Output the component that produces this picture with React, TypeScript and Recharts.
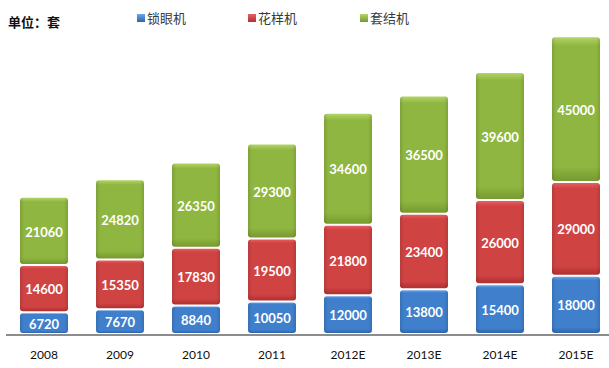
import { BarChart, Bar, XAxis, YAxis, LabelList, Legend } from "recharts";

const years = ["2008", "2009", "2010", "2011", "2012E", "2013E", "2014E", "2015E"];
const suoyan = [6720, 7670, 8840, 10050, 12000, 13800, 15400, 18000];
const huayang = [14600, 15350, 17830, 19500, 21800, 23400, 26000, 29000];
const taojie = [21060, 24820, 26350, 29300, 34600, 36500, 39600, 45000];

const series = [
  { key: "suoyan", name: "锁眼机", top: "#6aa6ea", main: "#3f7fcc", bottom: "#2e65ad" },
  { key: "huayang", name: "花样机", top: "#e86060", main: "#d04343", bottom: "#b03030" },
  { key: "taojie", name: "套结机", top: "#b2d468", main: "#8fb640", bottom: "#769a30" },
];

const data = years.map((year, i) => ({
  year,
  suoyan: suoyan[i],
  huayang: huayang[i],
  taojie: taojie[i],
}));

const cjk = '"Noto Sans CJK SC", sans-serif';

function Segment(props: any) {
  const { x, y, width, height, id } = props;
  if (!height || height <= 0) return null;
  const h = Math.max(height - 2, 1);
  return (
    <g>
      <rect x={x} y={y} width={width} height={h} rx={3} fill={`url(#g-${id})`} />
      <rect x={x} y={y} width={width} height={h} rx={3} fill="url(#edge)" />
    </g>
  );
}

function LegendBox() {
  return (
    <div style={{ position: "relative", height: 0 }}>
      <span
        style={{
          position: "absolute",
          left: 8,
          top: 12,
          fontFamily: cjk,
          fontWeight: 700,
          fontSize: 13,
          color: "#111",
          whiteSpace: "nowrap",
        }}
      >
        单位：套
      </span>
      {series.map((s, i) => (
        <span
          key={s.key}
          style={{
            position: "absolute",
            left: [137, 248, 360][i],
            top: 8,
            fontFamily: cjk,
            fontSize: 13,
            color: "#3a3a3a",
            whiteSpace: "nowrap",
            display: "flex",
            alignItems: "center",
          }}
        >
          <span
            style={{
              display: "inline-block",
              width: 8,
              height: 8,
              marginRight: 2,
              background: `linear-gradient(${s.top}, ${s.bottom})`,
            }}
          />
          {s.name}
        </span>
      ))}
    </div>
  );
}

export default function App() {
  return (
    <div
      style={{
        position: "absolute",
        left: 0,
        top: 0,
        width: 609,
        height: 368,
        overflow: "hidden",
        background: "#fff",
      }}
    >
      <BarChart
        width={614}
        height={368}
        data={data}
        margin={{ top: 14, right: 0, bottom: 0, left: 6 }}
        barSize={48}
      >
        <defs>
          {series.map((s) => (
            <linearGradient key={s.key} id={`g-${s.key}`} x1="0" y1="0" x2="0" y2="1">
              <stop offset="0" stopColor={s.top} />
              <stop offset="0.06" stopColor={s.main} />
              <stop offset="0.9" stopColor={s.main} />
              <stop offset="1" stopColor={s.bottom} />
            </linearGradient>
          ))}
          <linearGradient id="edge" x1="0" y1="0" x2="1" y2="0">
            <stop offset="0" stopColor="#000" stopOpacity={0.12} />
            <stop offset="0.08" stopColor="#000" stopOpacity={0} />
            <stop offset="0.92" stopColor="#000" stopOpacity={0} />
            <stop offset="1" stopColor="#000" stopOpacity={0.12} />
          </linearGradient>
        </defs>
        <XAxis
          dataKey="year"
          axisLine={{ stroke: "#8c8c8c", strokeWidth: 2 }}
          tickLine={false}
          tickMargin={9}
          height={33}
          tick={{ fontFamily: "Lato, sans-serif", fontSize: 12, fill: "#111" }}
        />
        <YAxis hide domain={[0, 99200]} />
        <Legend verticalAlign="top" content={() => <LegendBox />} wrapperStyle={{ top: 0, left: 0 }} />
        {series.map((s) => (
          <Bar
            key={s.key}
            dataKey={s.key}
            name={s.name}
            stackId="a"
            fill={s.main}
            isAnimationActive={false}
            shape={(p: any) => <Segment {...p} id={s.key} />}
          >
            <LabelList
              dataKey={s.key}
              position="center"
              fill="#fff"
              style={{ fontFamily: "Lato, sans-serif", fontWeight: 700, fontSize: 13 }}
            />
          </Bar>
        ))}
      </BarChart>
    </div>
  );
}
